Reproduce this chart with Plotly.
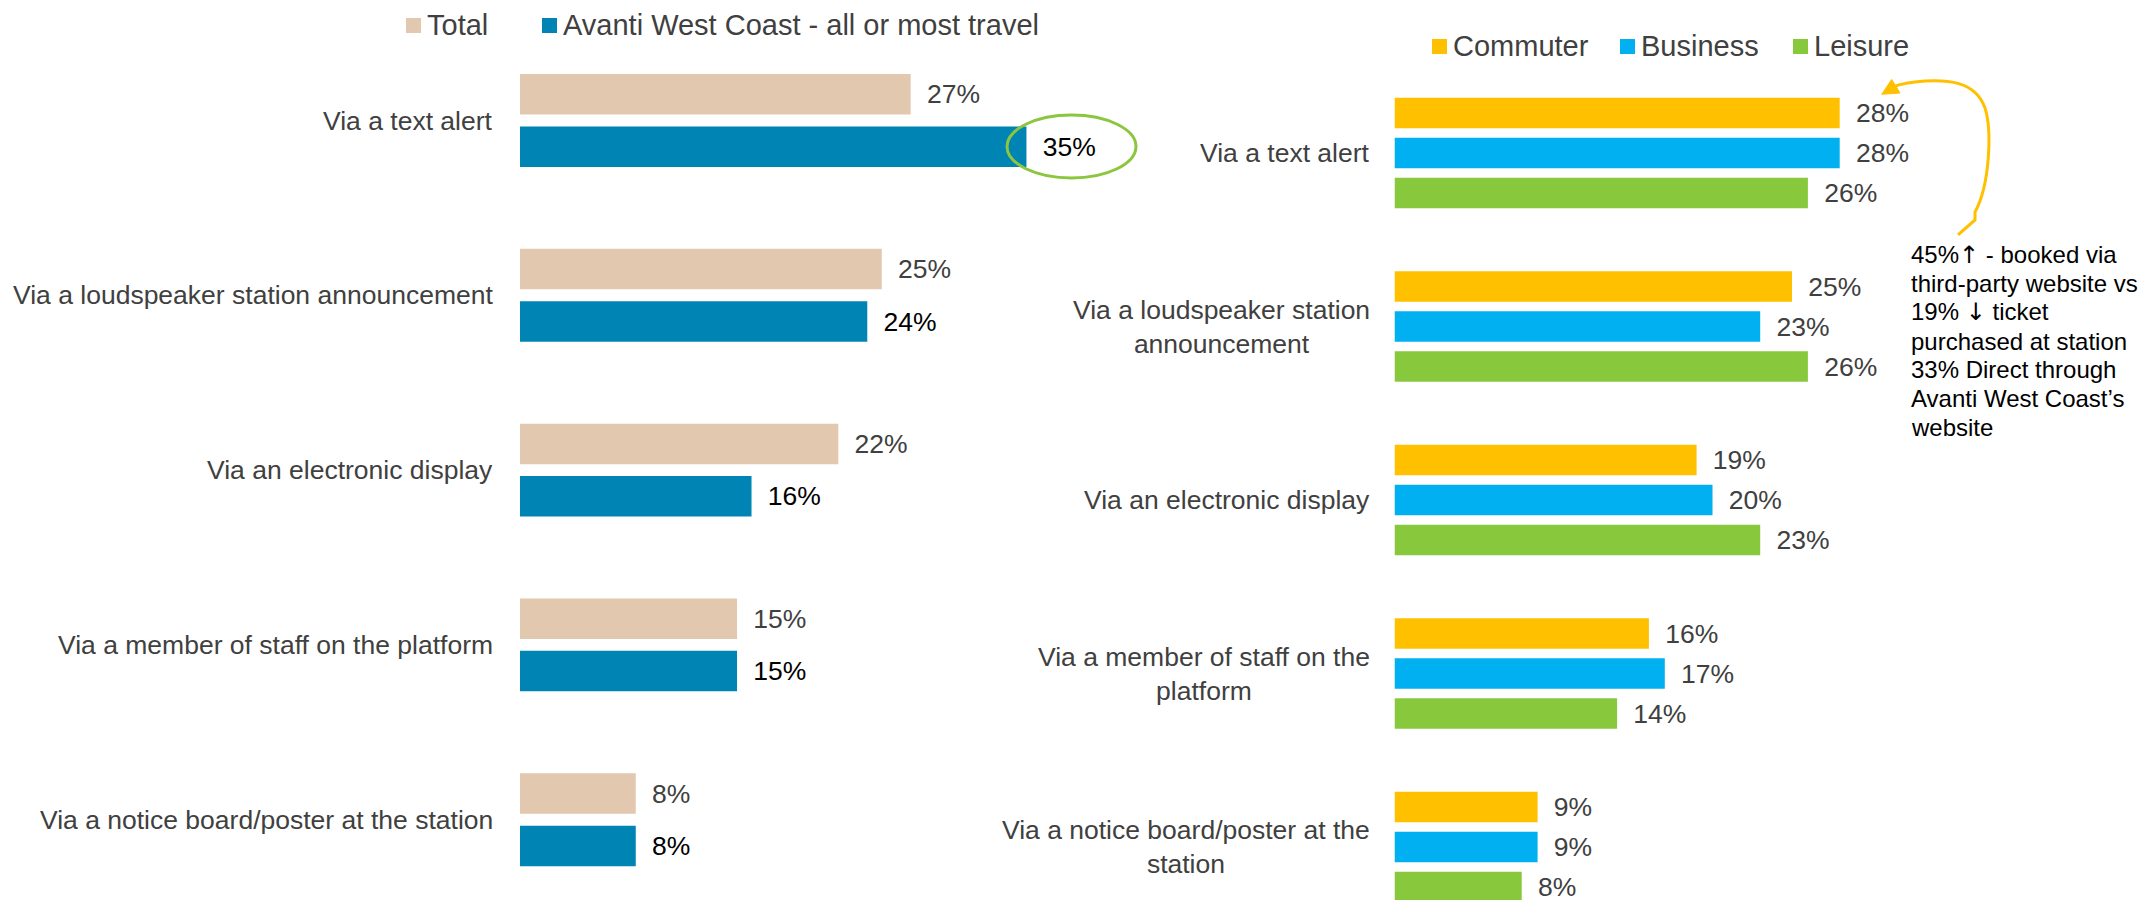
import plotly.graph_objects as go

# ---- data -------------------------------------------------------------
channels = [
    "Via a text alert",
    "Via a loudspeaker station announcement",
    "Via an electronic display",
    "Via a member of staff on the platform",
    "Via a notice board/poster at the station",
]
channels_wrapped = [
    "Via a text alert",
    "Via a loudspeaker station<br>announcement",
    "Via an electronic display",
    "Via a member of staff on the<br>platform",
    "Via a notice board/poster at the<br>station",
]

left_series = ["Total", "Avanti West Coast - all or most travel"]
total = [27, 25, 22, 15, 8]
avanti = [35, 24, 16, 15, 8]

right_series = ["Commuter", "Business", "Leisure"]
commuter = [28, 25, 19, 16, 9]
business = [28, 23, 20, 17, 9]
leisure = [26, 26, 23, 14, 8]

note_lines = [
    "45%↑ - booked via",
    "third-party website vs",
    "19% ↓ ticket",
    "purchased at station",
    "33% Direct through",
    "Avanti West Coast’s",
    "website",
]

# ---- styling ------------------------------------------------------------
W, H = 2140, 900
FONT = "Liberation Sans, Arial, sans-serif"
GREY = "#404040"
C_TOTAL = "#E2C8AE"
C_AVANTI = "#0084B4"
C_COMM = "#FFC000"
C_BUS = "#00B0F0"
C_LEIS = "#88C83C"
LABEL_SIZE = 26.5
PAD = "\u2002"


def fx(x):
    return x / W


def fy(y):
    return 1 - y / H


def arrow_glyphs(s):
    # render arrow characters with a font that has full-size arrow glyphs
    for ch in "↑↓":
        s = s.replace(ch, f'<span style="font-family:DejaVu Sans">{ch}</span>')
    return s


# left panel geometry (pixels)
L_X0, L_PX_PER = 520, 14.47
L_C0, L_STEP = 120.5, 174.8
# right panel geometry (pixels)
R_X0, R_PX_PER = 1394.5, 15.9
R_C0, R_STEP = 153.0, 173.5
XMAX = 40

fig = go.Figure()

# left panel: two bars per channel
l_w = 40.5 / L_STEP
l_off = 26.2 / L_STEP
for name, vals, col, tcol, sign in [
    (left_series[0], total, C_TOTAL, GREY, -1),
    (left_series[1], avanti, C_AVANTI, "#000000", 1),
]:
    fig.add_trace(go.Bar(
        y=channels, x=vals, orientation="h", name=name,
        marker=dict(color=col, line=dict(width=0)),
        width=l_w, offset=sign * l_off - l_w / 2,
        text=[f"{PAD}{v}%" for v in vals], textposition="outside",
        textfont=dict(family=FONT, size=LABEL_SIZE, color=tcol),
        constraintext="none", cliponaxis=False,
        xaxis="x", yaxis="y", showlegend=False, hoverinfo="skip",
    ))

# right panel: three bars per channel
r_w = 30.5 / R_STEP
r_off = 40.0 / R_STEP
for name, vals, col, k in [
    (right_series[0], commuter, C_COMM, -1),
    (right_series[1], business, C_BUS, 0),
    (right_series[2], leisure, C_LEIS, 1),
]:
    fig.add_trace(go.Bar(
        y=channels, x=vals, orientation="h", name=name,
        marker=dict(color=col, line=dict(width=0)),
        width=r_w, offset=k * r_off - r_w / 2,
        text=[f"{PAD}{v}%" for v in vals], textposition="outside",
        textfont=dict(family=FONT, size=LABEL_SIZE, color=GREY),
        constraintext="none", cliponaxis=False,
        xaxis="x2", yaxis="y2", showlegend=False, hoverinfo="skip",
    ))

annotations = []
# category labels
for cat in channels:
    annotations.append(dict(
        x=fx(495), y=cat, xref="paper", yref="y", xanchor="right", yanchor="middle",
        text=cat, showarrow=False, align="right",
        font=dict(family=FONT, size=LABEL_SIZE, color=GREY),
    ))
for cat, wrapped in zip(channels, channels_wrapped):
    annotations.append(dict(
        x=fx(1372), y=cat, xref="paper", yref="y2", xanchor="right", yanchor="middle",
        text=wrapped, showarrow=False, align="center",
        font=dict(family=FONT, size=LABEL_SIZE, color=GREY),
    ))

# legends
shapes = []
legend_items = [
    (left_series[0], C_TOTAL, 406, 25.5),
    (left_series[1], C_AVANTI, 542, 25.5),
    (right_series[0], C_COMM, 1432, 46.5),
    (right_series[1], C_BUS, 1620, 46.5),
    (right_series[2], C_LEIS, 1793, 46.5),
]
for name, col, x0, yc in legend_items:
    shapes.append(dict(
        type="rect", xref="paper", yref="paper",
        x0=fx(x0), x1=fx(x0 + 15), y0=fy(yc + 7.5), y1=fy(yc - 7.5),
        fillcolor=col, line=dict(width=0),
    ))
    annotations.append(dict(
        x=fx(x0 + 19), y=fy(yc), xref="paper", yref="paper",
        xanchor="left", yanchor="middle", text=name, showarrow=False,
        font=dict(family=FONT, size=29, color=GREY),
    ))

# note text
for i, line in enumerate(note_lines):
    annotations.append(dict(
        x=fx(1909), y=fy(255 + i * 28.7), xref="paper", yref="paper",
        xanchor="left", yanchor="middle", text=arrow_glyphs(line), showarrow=False,
        font=dict(family=FONT, size=24, color="#000000"),
    ))

# highlight ellipse around the Avanti text-alert value
shapes.append(dict(
    type="circle", xref="paper", yref="paper",
    x0=fx(1007), x1=fx(1136), y0=fy(178), y1=fy(115),
    line=dict(color="#8CC63F", width=3), fillcolor="rgba(0,0,0,0)",
))


def pt(x, y):
    return f"{fx(x):.5f},{fy(y):.5f}"


# curved connector from the note up to the commuter text-alert bar
curve = (
    f"M {pt(1958, 235)} L {pt(1975, 220)} L {pt(1975, 212)} "
    f"C {pt(1990, 185)} {pt(1992, 130)} {pt(1985, 108)} "
    f"C {pt(1975, 80)} {pt(1945, 80)} {pt(1925, 81)} "
    f"C {pt(1910, 82)} {pt(1900, 84)} {pt(1893, 87)}"
)
shapes.append(dict(type="path", xref="paper", yref="paper", path=curve,
                   line=dict(color=C_COMM, width=3)))
shapes.append(dict(
    type="path", xref="paper", yref="paper",
    path=f"M {pt(1881.7, 94.3)} L {pt(1891.7, 79.5)} L {pt(1900, 93)} Z",
    fillcolor=C_COMM, line=dict(color=C_COMM, width=1),
))

axis_common = dict(visible=False, showgrid=False, zeroline=False, fixedrange=True)
fig.update_layout(
    width=W, height=H,
    margin=dict(l=0, r=0, t=0, b=0),
    paper_bgcolor="white", plot_bgcolor="rgba(0,0,0,0)",
    barmode="overlay",
    showlegend=False,
    font=dict(family=FONT, color=GREY),
    xaxis=dict(domain=[fx(L_X0), fx(L_X0 + XMAX * L_PX_PER)], range=[0, XMAX], **axis_common),
    yaxis=dict(domain=[0, 1], type="category", categoryorder="array", categoryarray=channels,
               range=[(H - L_C0) / L_STEP, -L_C0 / L_STEP], anchor="x", **axis_common),
    xaxis2=dict(domain=[fx(R_X0), fx(R_X0 + XMAX * R_PX_PER)], range=[0, XMAX], anchor="y2",
                **axis_common),
    yaxis2=dict(domain=[0, 1], type="category", categoryorder="array", categoryarray=channels,
                range=[(H - R_C0) / R_STEP, -R_C0 / R_STEP], anchor="x2", **axis_common),
    annotations=annotations,
    shapes=shapes,
)

fig.write_html("out.html")
